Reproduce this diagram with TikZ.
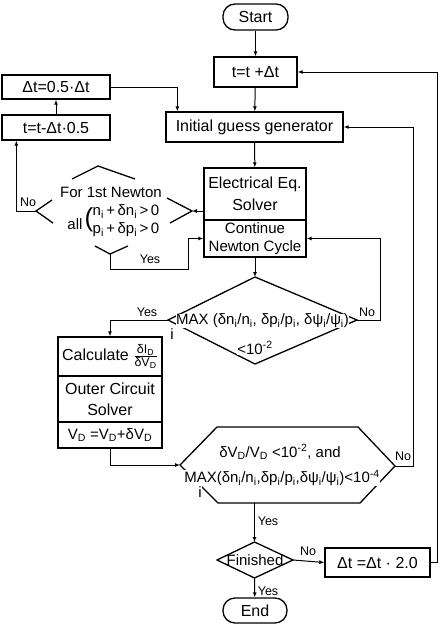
\documentclass[tikz,border=0pt]{standalone}
\usepackage{fontspec}
\setmainfont{Liberation Sans}
\usepackage{amsmath}
\usetikzlibrary{arrows.meta,calc}
\newcommand\ix[1]{\textsubscript{#1}}
\newcommand\ex[1]{\textsuperscript{#1}}
\newcommand\smalltxt[1]{\text{\fontsize{12.5}{13}\selectfont #1}}
\begin{document}
\begin{tikzpicture}[x=1pt,y=-1pt,
  box/.style={draw, line width=1.3pt, inner sep=0pt, align=center, font=\fontsize{16}{19}\selectfont},
  conn/.style={line width=1pt},
  arr/.style={conn, -{Latex[length=5pt,width=4pt]}},
  lbl/.style={font=\fontsize{12.5}{14}\selectfont, inner sep=0.5pt},
  txt/.style={font=\fontsize{15}{18}\selectfont, inner sep=0.5pt, align=center},
  mask/.style={txt, fill=white},
  shp/.style={line width=1.3pt, line join=miter}]
\useasboundingbox (0,0) rectangle (441,634);

% ---------- boxes ----------
\node[box, rounded corners=12pt, minimum width=65pt, minimum height=26pt] (start) at (255.5,17) {Start};
\node[box, minimum width=83pt, minimum height=30pt] (tplus) at (255.5,72) {t=t +Δt};
\node[box, minimum width=108pt, minimum height=24pt] (dthalf) at (56,87) {Δt=0.5·Δt};
\node[box, minimum width=108pt, minimum height=25pt] (tminus) at (56,127.5) {t=t-Δt·0.5};
\node[box, minimum width=177pt, minimum height=30pt] (init) at (254.5,127) {Initial guess generator};
\node[box, minimum width=102pt, minimum height=52pt, font=\fontsize{16}{22}\selectfont] (elec) at (255,194) {Electrical Eq.\\Solver};
\node[box, minimum width=102pt, minimum height=37pt, font=\fontsize{15}{18}\selectfont] (cont) at (255,238.5) {Continue\\Newton Cycle};
\node[box, minimum width=104pt, minimum height=39pt] (calc) at (110,356.5) {Calculate $\genfrac{}{}{0.8pt}{}{\smalltxt{δI\ix{D}}}{\smalltxt{δV\ix{D}}}$};
\node[box, minimum width=104pt, minimum height=46pt, font=\fontsize{16}{21}\selectfont] (outer) at (110,399) {Outer Circuit\\Solver};
\node[box, minimum width=104pt, minimum height=26pt, font=\fontsize{15}{18}\selectfont] (vd) at (110,435) {V\ix{D} =V\ix{D}+δV\ix{D}};
\node[box, minimum width=105pt, minimum height=29pt] (dt2) at (377.5,562.5) {Δt =Δt · 2.0};
\node[box, rounded corners=12pt, minimum width=64pt, minimum height=25pt] (end) at (255,610.5) {End};

% ---------- Newton decision (broken diamond) ----------
\coordinate (nl) at (36,211);
\coordinate (nr) at (192,211);
\coordinate (nb) at (110,254);
\draw[shp] (72,179) -- (98,166) -- (135,179);
\draw[shp] (52,200) -- (nl) -- (53,223);
\draw[shp] (167,198) -- (nr) -- (170,223);
\draw[shp] (95,246) -- (nb) -- (128,246);
\node[txt] (nt1) at (111,192) {For 1st Newton};
\node[txt] (nall) at (75,224) {all};
\node[inner sep=0pt, font=\fontsize{26}{26}\selectfont] (npar) at (89,220) {(};
\node[txt, align=left, font=\fontsize{15}{18}\selectfont] (ncond) at (126,221) {n\ix{i}\,+\,δn\ix{i}\,>\,0\\p\ix{i}\,+\,δp\ix{i}\,>\,0};

% ---------- MAX diamond ----------
\coordinate (mt) at (255,277);
\coordinate (ml) at (168,320);
\coordinate (mr) at (357,320);
\coordinate (mb) at (255,364);
\draw[shp] (mt) -- (mr) -- (mb) -- (ml) -- cycle;
\node[mask] (maxtxt) at (262.5,321) {MAX (δn\ix{i}/n\ix{i}, δp\ix{i}/p\ix{i}, δψ\ix{i}/ψ\ix{i})};
\node[mask] (maxi) at (172,334) {i};
\node[mask] (maxlim) at (255,348) {<10\ex{-2}};

% ---------- convergence hexagon ----------
\coordinate (hl) at (180,465);
\coordinate (htl) at (217,427);
\coordinate (htr) at (358,427);
\coordinate (hr) at (395,466);
\coordinate (hbr) at (360,503);
\coordinate (hbl) at (218,503);
\coordinate (hbm) at (254.5,503);
\draw[shp] (hl) -- (htl) -- (htr) -- (hr) -- (hbr) -- (hbl) -- cycle;
\node[txt] (hx1) at (280,452) {δV\ix{D}/V\ix{D} <10\ex{-2}, and};
\node[mask] (hx2) at (282,478) {MAX(δn\ix{i}/n\ix{i},δp\ix{i}/p\ix{i},δψ\ix{i}/ψ\ix{i})<10\ex{-4}};
\node[mask] (hxi) at (200,492) {i};

% ---------- Finished diamond ----------
\coordinate (fl) at (217,560);
\coordinate (ft) at (254.5,542);
\coordinate (fr) at (293,560);
\coordinate (fb) at (254.5,578);
\draw[shp] (fl) -- (ft) -- (fr) -- (fb) -- cycle;
\node[txt] (fin) at (255,560) {Finished};

% ---------- connectors ----------
\draw[arr] (start) -- (tplus);
\draw[arr] (tplus) -- (init);
\draw[arr] (tminus.north) -- (dthalf.south);
\draw[arr] (dthalf.east) -| ($(init.north west)+(12,0)$);
\draw[arr] (init) -- (elec);
\draw[arr] (nr -| elec.west) -- (nr);
\draw[arr] (nl) -| ($(tminus.south west)+(15,0)$);
\draw[arr] (nb) |- (188,269) |- (cont.west);
\draw[arr] (cont) -- (mt);
\draw[arr] (mr) -| ($(cont.east)+(74,0)$) -- (cont.east);
\draw[arr] (ml) -| (calc.north);
\draw[arr] (vd.south) |- (hl);
\draw[arr] (hr) -| ($(init.east)+(70,0)$) -- (init.east);
\draw[arr] (hbm) -- (ft);
\draw[arr] (fr) -- (dt2.west);
\draw[arr] (fb) -- (end);
\draw[arr] (dt2.east) -| ($(tplus.east)+(140,0)$) -- (tplus.east);

% ---------- labels ----------
\node[lbl] (lno1) at (28,202) {No};
\node[lbl] (lyes1) at (150,259) {Yes};
\node[lbl] (lyes2) at (147,312) {Yes};
\node[lbl] (lno2) at (367,312) {No};
\node[lbl] (lno3) at (403,456) {No};
\node[lbl] (lyes3) at (268,521) {Yes};
\node[lbl] (lno4) at (308,551) {No};
\node[lbl] (lyes4) at (268,591) {Yes};
\end{tikzpicture}
\end{document}
